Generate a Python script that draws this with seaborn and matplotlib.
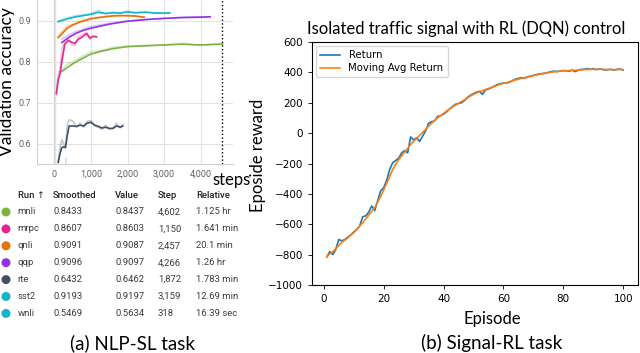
import pandas as pd
import matplotlib
matplotlib.use("Agg")
import matplotlib.pyplot as plt
import seaborn as sns

# ---- left panel: NLP-SL validation accuracy (TensorBoard-like) ----
mnli_steps = [200, 350, 500, 700, 1000, 1300, 1600, 2000, 2500, 3000, 3500, 4000, 4300, 4602]
mnli_smooth = [0.776, 0.786, 0.795, 0.805, 0.819, 0.826, 0.832, 0.837, 0.839, 0.841, 0.843, 0.841, 0.842, 0.843]
mnli_raw = [0.780, 0.795, 0.800, 0.810, 0.825, 0.828, 0.835, 0.838, 0.840, 0.841, 0.845, 0.840, 0.843, 0.844]

mrpc_steps = [50, 100, 150, 200, 280, 380, 460, 560, 650, 750, 880, 970, 1050, 1150]
mrpc_smooth = [0.722, 0.755, 0.770, 0.800, 0.843, 0.852, 0.848, 0.845, 0.855, 0.860, 0.869, 0.858, 0.862, 0.861]
mrpc_raw = [0.722, 0.770, 0.780, 0.830, 0.850, 0.856, 0.842, 0.840, 0.860, 0.866, 0.872, 0.855, 0.863, 0.860]

qnli_steps = [100, 200, 350, 500, 700, 1000, 1300, 1600, 1900, 2200, 2457]
qnli_smooth = [0.859, 0.868, 0.882, 0.890, 0.897, 0.905, 0.909, 0.912, 0.913, 0.912, 0.909]
qnli_raw = [0.862, 0.873, 0.888, 0.892, 0.900, 0.907, 0.910, 0.914, 0.912, 0.911, 0.909]

qqp_steps = [200, 400, 600, 800, 1000, 1500, 2000, 2500, 3000, 3500, 4000, 4266]
qqp_smooth = [0.847, 0.860, 0.870, 0.877, 0.882, 0.892, 0.899, 0.903, 0.906, 0.908, 0.909, 0.910]
qqp_raw = [0.855, 0.866, 0.874, 0.880, 0.886, 0.894, 0.900, 0.904, 0.906, 0.909, 0.910, 0.910]

rte_steps = [100, 150, 200, 250, 300, 350, 400, 500, 600, 700, 800, 900, 1000, 1100,
             1200, 1300, 1400, 1500, 1600, 1700, 1800, 1872]
rte_smooth = [0.554, 0.575, 0.590, 0.592, 0.590, 0.620, 0.643, 0.643, 0.642, 0.645, 0.643,
              0.650, 0.652, 0.645, 0.642, 0.638, 0.640, 0.637, 0.637, 0.643, 0.640, 0.643]
rte_raw = [0.554, 0.590, 0.610, 0.600, 0.590, 0.645, 0.658, 0.655, 0.640, 0.650, 0.640,
           0.655, 0.656, 0.643, 0.640, 0.635, 0.645, 0.635, 0.638, 0.650, 0.638, 0.646]

sst2_steps = [100, 250, 400, 600, 800, 1000, 1200, 1400, 1600, 1800, 2000, 2200, 2500, 2800, 3159]
sst2_smooth = [0.898, 0.902, 0.906, 0.910, 0.913, 0.916, 0.921, 0.918, 0.920, 0.919, 0.922, 0.920, 0.921, 0.919, 0.919]
sst2_raw = [0.900, 0.905, 0.909, 0.913, 0.915, 0.918, 0.926, 0.917, 0.921, 0.918, 0.924, 0.919, 0.922, 0.918, 0.920]

wnli_steps = [290, 305, 318]
wnli_smooth = [0.530, 0.540, 0.547]
wnli_raw = [0.520, 0.545, 0.563]

run_colors = {"mnli": "#7cb342", "mrpc": "#e52592", "qnli": "#e8710a", "qqp": "#9334e6",
              "rte": "#425066", "sst2": "#12b5cb", "wnli": "#12b5cb"}

# table under the left chart
table_runs = ["mnli", "mrpc", "qnli", "qqp", "rte", "sst2", "wnli"]
table_smoothed = ["0.8433", "0.8607", "0.9091", "0.9096", "0.6432", "0.9193", "0.5469"]
table_value = ["0.8437", "0.8603", "0.9087", "0.9097", "0.6462", "0.9197", "0.5634"]
table_step = ["4,602", "1,150", "2,457", "4,266", "1,872", "3,159", "318"]
table_relative = ["1.125 hr", "1.641 min", "20.1 min", "1.26 hr", "1.783 min", "12.69 min", "16.39 sec"]

# ---- right panel: Signal-RL returns ----
episodes = list(range(1, 101))
returns = [-815, -780, -800, -765, -700, -710, -700, -685, -670, -650,
           -635, -610, -550, -545, -520, -480, -510, -445, -380, -360,
           -310, -240, -195, -180, -165, -130, -115, -130, -25, -45,
           -30, -55, -20, 15, 65, 75, 80, 110, 115, 125,
           140, 160, 175, 190, 195, 200, 215, 235, 250, 260,
           270, 275, 255, 285, 290, 300, 310, 320, 325, 330,
           330, 335, 345, 355, 360, 365, 360, 370, 375, 380,
           385, 390, 392, 395, 400, 405, 408, 405, 410, 412,
           410, 408, 415, 405, 415, 420, 420, 425, 420, 425,
           418, 422, 420, 415, 418, 420, 415, 420, 422, 415]
moving_avg = [-815, -795, -780, -760, -740, -720, -705, -690, -672, -655,
              -635, -612, -590, -565, -540, -515, -490, -455, -415, -375,
              -330, -285, -240, -205, -175, -150, -125, -100, -75, -55,
              -35, -15, 5, 25, 45, 65, 85, 100, 115, 130,
              145, 158, 172, 185, 197, 208, 220, 232, 245, 255,
              265, 273, 280, 287, 294, 301, 308, 315, 322, 328,
              333, 338, 344, 350, 355, 360, 364, 368, 373, 378,
              383, 387, 391, 394, 398, 401, 404, 406, 408, 410,
              411, 412, 413, 414, 415, 416, 418, 419, 420, 420,
              420, 420, 420, 419, 419, 419, 418, 418, 419, 418]

CAP_FONT = ["Lato", "DejaVu Sans"]
TB_FONT = ["Roboto", "DejaVu Sans"]


def long_frame():
    parts = []
    for name, st, sm, rw in [("mnli", mnli_steps, mnli_smooth, mnli_raw),
                             ("mrpc", mrpc_steps, mrpc_smooth, mrpc_raw),
                             ("qnli", qnli_steps, qnli_smooth, qnli_raw),
                             ("qqp", qqp_steps, qqp_smooth, qqp_raw),
                             ("rte", rte_steps, rte_smooth, rte_raw),
                             ("sst2", sst2_steps, sst2_smooth, sst2_raw),
                             ("wnli", wnli_steps, wnli_smooth, wnli_raw)]:
        parts.append(pd.DataFrame({"run": name, "step": st, "smooth": sm, "raw": rw}))
    return pd.concat(parts, ignore_index=True)


fig = plt.figure(figsize=(6.4, 3.53), dpi=100)

# left chart
ax1 = fig.add_axes([37 / 640, 1 - 164 / 353, 196 / 640, 164 / 353])
df = long_frame()
sns.lineplot(data=df, x="step", y="raw", hue="run", palette=run_colors,
             alpha=0.3, lw=1.2, legend=False, ax=ax1, estimator=None)
sns.lineplot(data=df, x="step", y="smooth", hue="run", palette=run_colors,
             lw=1.2, legend=False, ax=ax1, estimator=None)
ax1.set_xlim(-480, 4890)
ax1.set_ylim(0.55, 0.951)
ax1.set_xticks([0, 1000, 2000, 3000, 4000])
ax1.set_xticklabels(["0", "1,000", "2,000", "3,000", "4,000"])
ax1.set_yticks([0.6, 0.7, 0.8, 0.9])
ax1.set_yticklabels(["0.6", "0.7", "0.8", "0.9"])
ax1.grid(True, color="#e3e3e3", lw=0.8)
ax1.set_axisbelow(True)
ax1.axvline(0, color="#d0d0d0", lw=1.6, zorder=0.5)
ax1.axvline(4602, color="black", ls=":", lw=1)
for side in ["top", "right"]:
    ax1.spines[side].set_visible(False)
for side in ["left", "bottom"]:
    ax1.spines[side].set_color("#d0d0d0")
ax1.tick_params(length=0, labelsize=6.5, labelcolor="#616161", pad=4)
for lab in ax1.get_xticklabels() + ax1.get_yticklabels():
    lab.set_family(TB_FONT)
ax1.set_xlabel("")
ax1.set_ylabel("Validation accuracy", fontsize=12.5, family=CAP_FONT, labelpad=3)
fig.text(212 / 640, 1 - 180 / 353, "steps", fontsize=12, family=CAP_FONT, va="center", ha="left")

# table
axt = fig.add_axes([0, 1 - 322 / 353, 240 / 640, 135 / 353])
axt.axis("off")
row_y = [212 + 16.9 * i for i in range(len(table_runs))]
tdf = pd.DataFrame({"run": table_runs, "y": row_y, "x": 6})
sns.scatterplot(data=tdf, x="x", y="y", hue="run", palette=run_colors, s=42,
                edgecolor="none", legend=False, ax=axt, clip_on=False)
axt.set_xlim(0, 240)
axt.set_ylim(322, 187)
col_x = [17.5, 53, 115, 158, 196]
headers = ["Run \u2191", "Smoothed", "Value", "Step", "Relative"]
for cx, h in zip(col_x, headers):
    axt.text(cx, 195, h, fontsize=6.8, family=TB_FONT, fontweight="medium",
             color="#212121", va="center", ha="left", clip_on=True)
for i, y in enumerate(row_y):
    cells = [table_runs[i], table_smoothed[i], table_value[i], table_step[i], table_relative[i]]
    for cx, c in zip(col_x, cells):
        axt.text(cx, y, c, fontsize=6.8, family=TB_FONT, color="#3c3c3c",
                 va="center", ha="left", clip_on=True)

# right chart
ax2 = fig.add_axes([312 / 640, 1 - 285 / 353, 326 / 640, 243 / 353])
rl = pd.DataFrame({"episode": episodes, "Return": returns, "Moving Avg Return": moving_avg})
sns.lineplot(data=rl, x="episode", y="Return", color="#1f77b4", lw=1.2, label="Return", ax=ax2)
sns.lineplot(data=rl, x="episode", y="Moving Avg Return", color="#ff7f0e", lw=1.2,
             label="Moving Avg Return", ax=ax2)
ax2.set_ylim(-1000, 600)
ax2.set_yticks(range(-1000, 601, 200))
ax2.set_xticks(range(0, 101, 20))
ax2.tick_params(labelsize=7.5, length=3, width=0.6)
for s in ax2.spines.values():
    s.set_linewidth(0.8)
ax2.legend(loc="upper left", fontsize=7.3, handlelength=2.0, labelspacing=0.3,
           borderpad=0.4, borderaxespad=0.4)
ax2.set_title("Isolated traffic signal with RL (DQN) control", fontsize=12,
              family=CAP_FONT, pad=6)
ax2.title.set_position(((466 - 312) / 326, 1.0))
ax2.set_xlabel("Episode", fontsize=12, family=CAP_FONT, labelpad=5)
ax2.xaxis.set_label_coords((492 - 312) / 326, -0.105)
ax2.set_ylabel("Eposide reward", fontsize=12, family=CAP_FONT, labelpad=2)
ax2.yaxis.set_label_coords((266 - 312) / 326, (285 - 155) / 243)

# captions
fig.text(133 / 640, 1 - 343 / 353, "(a) NLP-SL task", fontsize=13.5, family=CAP_FONT,
         ha="center", va="center")
fig.text(492 / 640, 1 - 343 / 353, "(b) Signal-RL task", fontsize=13.5, family=CAP_FONT,
         ha="center", va="center")

fig.savefig("out.png", dpi=100)
